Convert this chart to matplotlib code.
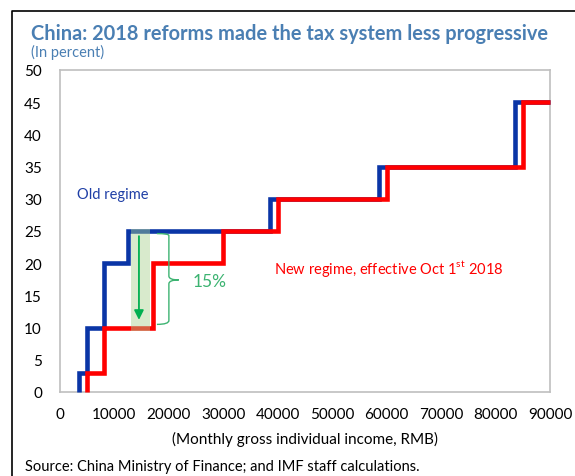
import numpy as np
import matplotlib.pyplot as plt
from matplotlib.path import Path
from matplotlib.patches import PathPatch, Rectangle
from matplotlib.lines import Line2D

plt.rcParams['font.family'] = ['Lato', 'DejaVu Sans']

# tax brackets (monthly income thresholds, RMB) and marginal rates (%)
old_income = [3500, 3500, 5000, 8000, 12500, 38500, 58500, 83500, 90000]
old_rate = [0, 3, 10, 20, 25, 30, 35, 45, 45]
new_income = [5000, 5000, 8000, 17000, 30000, 40000, 60000, 85000, 90000]
new_rate = [0, 3, 10, 20, 25, 30, 35, 45, 45]

x_ticks = [0, 10000, 20000, 30000, 40000, 50000, 60000, 70000, 80000, 90000]
y_ticks = [0, 5, 10, 15, 20, 25, 30, 35, 40, 45, 50]

blue = '#0a35a6'
red = '#ff0000'
green = '#00b050'
title_blue = '#4a7fb3'

fig = plt.figure(figsize=(5.75, 4.77), dpi=100)
ax = fig.add_axes([60/575, 1 - 393/477, 490/575, 322/477])

ax.plot(old_income, old_rate, drawstyle='steps-post', color=blue, lw=3.3,
        solid_joinstyle='miter', solid_capstyle='butt', clip_on=False, zorder=3)
ax.plot(new_income, new_rate, drawstyle='steps-post', color=red, lw=3.3,
        solid_joinstyle='miter', solid_capstyle='butt', clip_on=False, zorder=4)

# shaded band and arrow showing the drop in marginal rate
ax.add_patch(Rectangle((13000, 9.5), 3500, 15.8, facecolor='#a9d18e',
                       alpha=0.45, edgecolor='none', zorder=5))
ax.annotate('', xy=(14500, 11.2), xytext=(14500, 24.2),
            arrowprops=dict(arrowstyle='-|>', color=green, lw=1.3,
                            mutation_scale=14, shrinkA=0, shrinkB=0), zorder=6)

# curly brace
bx0, bx1, bx2 = 17800, 20000, 21800
yt, ym, yb = 24.6, 17.4, 10.5
verts = [(bx0, yt), (bx1, yt), (bx1, yt - 0.3), (bx1, yt - 0.6),
         (bx1, ym + 0.6), (bx1, ym), (bx2, ym),
         (bx1, ym), (bx1, ym - 0.6),
         (bx1, yb + 0.6), (bx1, yb), (bx0, yb)]
codes = [Path.MOVETO, Path.CURVE3, Path.CURVE3, Path.LINETO,
         Path.LINETO, Path.CURVE3, Path.CURVE3,
         Path.CURVE3, Path.CURVE3,
         Path.LINETO, Path.CURVE3, Path.CURVE3]
ax.add_patch(PathPatch(Path(verts, codes), facecolor='none',
                       edgecolor='#3cb371', lw=1.0, zorder=6))
ax.text(24300, 17.3, '15%', color='#3cb371', fontsize=12.5, va='center', ha='left')

ax.text(3200, 30.7, 'Old regime', color='#1f3fa6', fontsize=10.5, va='center')
ax.text(39300, 19.4, r'New regime, effective Oct 1$^{\mathregular{st}}$ 2018',
        color=red, fontsize=10.5, va='center')

ax.set_xlim(0, 90000)
ax.set_ylim(0, 50)
ax.set_xticks(x_ticks)
ax.set_yticks(y_ticks)
ax.tick_params(length=0, labelsize=11, pad=11)
ax.tick_params(axis='y', pad=13)
for s in ax.spines.values():
    s.set_color('#bfbfbf')
    s.set_linewidth(1.2)
ax.set_xlabel('(Monthly gross individual income, RMB)', fontsize=11, labelpad=7)

fig.text(31/575, 1 - 34/477, 'China: 2018 reforms made the tax system less progressive',
         color=title_blue, fontsize=14.4, fontweight='bold', va='center')
fig.text(31/575, 1 - 52/477, '(In percent)', color=title_blue, fontsize=10.5, va='center')
fig.text(25/575, 1 - 467/477, 'Source: China Ministry of Finance; and IMF staff calculations.',
         fontsize=10.5, va='center')

# outer frame
fig.add_artist(Line2D([12/575, 12/575, 1.0], [0, 1 - 12/477, 1 - 12/477],
                      color='black', lw=1.2, transform=fig.transFigure))

plt.savefig('out.png', dpi=100)
